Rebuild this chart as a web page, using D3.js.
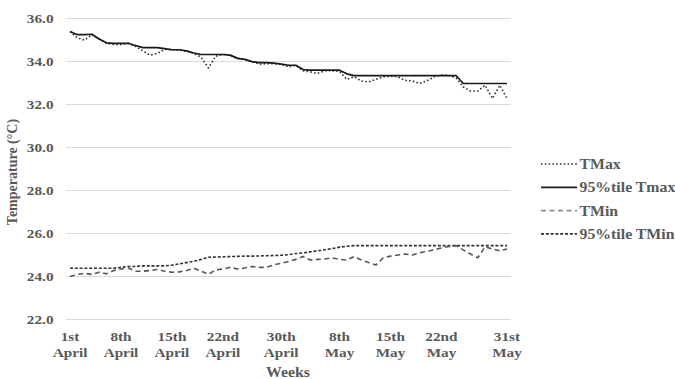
<!DOCTYPE html>
<html><head><meta charset="utf-8">
<script src="https://cdn.jsdelivr.net/npm/d3@7"></script>
<style>
html,body{margin:0;padding:0;background:#fff;}
svg{display:block;}
text{font-family:"Liberation Serif","Times New Roman",serif;font-weight:bold;fill:#595959;}
</style></head>
<body>
<svg id="chart" width="675" height="379"></svg>
<script>
// ---- data ----
const startDate = new Date(2020, 3, 1);
const endDate = new Date(2020, 5, 1);
const days = d3.timeDay.range(startDate, endDate); // 1 April .. 31 May (61 days)

const tMax = [35.35,35.05,34.95,35.2,35.0,34.8,34.75,34.75,34.8,34.65,
  34.45,34.25,34.33,34.52,34.5,34.48,34.43,34.33,34.15,33.65,
  34.2,34.28,34.25,34.1,34.05,33.95,33.83,33.85,33.85,33.83,
  33.7,33.78,33.52,33.47,33.4,33.52,33.52,33.5,33.12,33.24,
  33.05,33.0,33.12,33.24,33.27,33.25,33.08,33.05,32.93,33.05,
  33.24,33.32,33.3,33.2,32.77,32.58,32.58,32.85,32.23,32.85,32.23];

const p95Tmax = [35.35,35.2,35.2,35.22,35.0,34.82,34.8,34.8,34.8,34.7,
  34.6,34.6,34.6,34.55,34.5,34.5,34.45,34.35,34.28,34.28,
  34.28,34.28,34.25,34.1,34.05,33.95,33.9,33.9,33.88,33.83,
  33.78,33.78,33.58,33.55,33.55,33.55,33.55,33.55,33.38,33.3,
  33.3,33.3,33.3,33.3,33.3,33.3,33.3,33.3,33.3,33.3,
  33.3,33.3,33.3,33.3,32.93,32.93,32.93,32.93,32.93,32.93,32.93];

const tMin = [23.95,24.05,24.1,24.05,24.15,24.08,24.23,24.3,24.35,24.2,
  24.2,24.23,24.28,24.2,24.15,24.17,24.23,24.34,24.2,24.05,
  24.26,24.3,24.38,24.3,24.35,24.42,24.38,24.38,24.5,24.57,
  24.65,24.75,24.88,24.72,24.75,24.77,24.82,24.75,24.72,24.88,
  24.72,24.6,24.49,24.82,24.9,24.95,25.0,24.95,25.05,25.12,
  25.2,25.28,25.35,25.39,25.19,25.0,24.82,25.34,25.23,25.15,25.23];

const p95Tmin = [24.34,24.34,24.34,24.34,24.34,24.34,24.34,24.38,24.42,24.42,
  24.45,24.45,24.45,24.45,24.48,24.54,24.6,24.66,24.75,24.85,
  24.86,24.87,24.88,24.89,24.9,24.9,24.91,24.92,24.93,24.94,
  24.97,25.02,25.05,25.1,25.15,25.2,25.25,25.32,25.36,25.39,
  25.39,25.39,25.39,25.39,25.39,25.39,25.39,25.39,25.39,25.39,
  25.39,25.39,25.39,25.39,25.39,25.39,25.39,25.39,25.39,25.39,25.39];

const yTicks = [22, 24, 26, 28, 30, 32, 34, 36];
const xTickDays = [0, 7, 14, 21, 29, 37, 44, 51, 60];
const xTickLabels = [["1st","April"],["8th","April"],["15th","April"],["22nd","April"],
  ["30th","April"],["8th","May"],["15th","May"],["22nd","May"],["31st","May"]];

const seriesNames = ["TMax", "95%tile Tmax", "TMin", "95%tile TMin"];

// ---- chart ----
const SX = 1.13; // horizontal text stretch seen in the reference
const svg = d3.select("#chart");
const x = d3.scalePoint().domain(days).range([66, 511]).padding(0.55);
const y = d3.scaleLinear().domain([22, 36]).range([318.5, 17.5]);

// gridlines
svg.append("g").selectAll("line").data(yTicks).join("line")
  .attr("x1", 66).attr("x2", 511)
  .attr("y1", d => Math.round(y(d)) + 0.5).attr("y2", d => Math.round(y(d)) + 0.5)
  .attr("stroke", "#d9d9d9").attr("stroke-width", 1);

// y axis labels
const yAxis = d3.axisLeft(y).tickValues(yTicks).tickFormat(d3.format(".1f")).tickSize(0).tickPadding(0);
const gy = svg.append("g").attr("transform", "translate(53.5,0)").call(yAxis);
gy.select(".domain").remove();
gy.selectAll("text").attr("font-size", 13.5).attr("dy", "0.35em").attr("x", 0)
  .attr("transform", `scale(${SX},1)`)
  .attr("font-family", "Liberation Serif").attr("font-weight", "bold").attr("fill", "#595959");

// x tick labels
const xg = svg.append("g").selectAll("g").data(xTickDays).join("g")
  .attr("transform", d => `translate(${x(days[d])},0) scale(${SX},1)`);
const xl = xg.append("text").attr("text-anchor", "middle").attr("font-size", 13.5);
xl.append("tspan").attr("x", 0).attr("y", 341).text((d, i) => xTickLabels[i][0]);
xl.append("tspan").attr("x", 0).attr("y", 357).text((d, i) => xTickLabels[i][1]);

// axis titles
svg.append("text").attr("transform", `translate(288,377) scale(${SX},1)`).attr("text-anchor", "middle")
  .attr("font-size", 14).text("Weeks");
svg.append("text").attr("transform", "translate(17,172) rotate(-90)").attr("text-anchor", "middle")
  .attr("font-size", 14).text("Temperature (°C)");

// lines
const styles = [
  {stroke: "#333", width: 1.6, dash: "1.6,2.2"},
  {stroke: "#1a1a1a", width: 1.7, dash: null},
  {stroke: "#555", width: 1.6, dash: "5,3.5"},
  {stroke: "#333", width: 1.6, dash: "3,1.8"}
];
const allSeries = [tMax, p95Tmax, tMin, p95Tmin];
const line = d3.line().x((d, i) => x(days[i])).y(d => y(d));

const drawOrder = [3, 2, 0, 1];
drawOrder.forEach(k => {
  svg.append("path").datum(allSeries[k]).attr("d", line)
    .attr("fill", "none").attr("stroke", styles[k].stroke)
    .attr("stroke-width", styles[k].width)
    .attr("stroke-dasharray", styles[k].dash)
    .attr("stroke-linejoin", "round");
});

// legend
const leg = svg.append("g").selectAll("g").data(seriesNames).join("g")
  .attr("transform", (d, i) => `translate(541,${164 + i * 23.3})`);
leg.append("line").attr("x1", 0).attr("x2", 36).attr("y1", 0).attr("y2", 0)
  .attr("stroke", (d, i) => i === 2 ? "#8c8c8c" : styles[i].stroke)
  .attr("stroke-width", (d, i) => styles[i].width)
  .attr("stroke-dasharray", (d, i) => styles[i].dash);
leg.append("text").attr("transform", `translate(38.5,0) scale(${SX},1)`).attr("dy", "0.35em")
  .attr("font-size", 14).text(d => d);
</script>
</body></html>
